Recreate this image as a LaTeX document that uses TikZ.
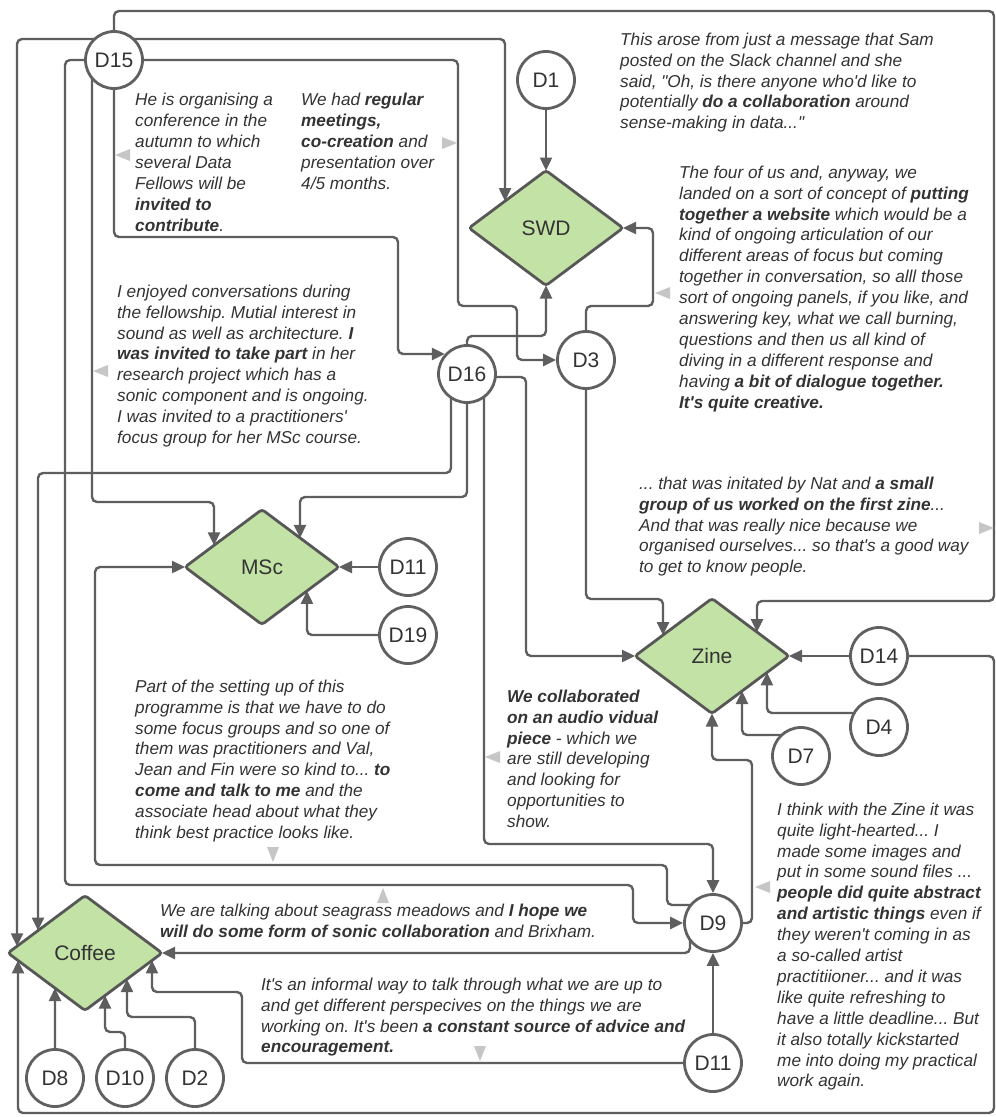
\documentclass[tikz,border=0pt]{standalone}
\usepackage{fontspec}
\setmainfont{Liberation Sans}[Ligatures=TeXOff]
\frenchspacing
\usetikzlibrary{arrows.meta,calc,backgrounds,shapes.geometric}

\definecolor{linegrey}{HTML}{5E5E5E}
\definecolor{ringgrey}{HTML}{606060}
\definecolor{inkgrey}{HTML}{333333}
\definecolor{tipgrey}{HTML}{C6C6C6}
\definecolor{leaf}{HTML}{C3E2A5}
\definecolor{leafedge}{HTML}{575757}

\begin{document}
\begin{tikzpicture}[x=1pt,y=-1pt,
  person/.style={circle, draw=ringgrey, line width=2.8pt, fill=white,
    minimum size=57pt, inner sep=0pt, text=inkgrey,
    font=\fontsize{21}{21}\selectfont},
  hub/.style={diamond, draw=leafedge, fill=leaf, line width=2.8pt,
    minimum width=154pt, minimum height=115pt, inner sep=0pt, outer sep=0pt,
    rounded corners=3pt, text=inkgrey, font=\fontsize{21}{21}\selectfont},
  link/.style={draw=linegrey, line width=2.4pt, rounded corners=5pt,
    -{Triangle[length=13pt,width=12pt]}},
  saying/.style={anchor=north west, align=left, inner sep=0pt, text=inkgrey,
    font=\fontsize{17.2}{20.9}\selectfont\itshape\frenchspacing},
  lbltip/.pic={\fill[tipgrey] (0,0) -- (-15,-6) -- (-15,6) -- cycle;}
]
\useasboundingbox (0,0) rectangle (996,1117);

% hubs
\node[hub] (swd)    at (546,228) {SWD};
\node[hub] (msc)    at (262,567) {MSc};
\node[hub] (zine)   at (712,656) {Zine};
\node[hub] (coffee) at (85,953)  {Coffee};

% people
\node[person] (d15)  at (114,60)   {D15};
\node[person] (d1)   at (546,80)   {D1};
\node[person] (d3)   at (586,360)  {D3};
\node[person] (d16)  at (467,374)  {D16};
\node[person] (d11a) at (408,567)  {D11};
\node[person] (d19)  at (408,635)  {D19};
\node[person] (d14)  at (879,656)  {D14};
\node[person] (d4)   at (879,727)  {D4};
\node[person] (d7)   at (801,756)  {D7};
\node[person] (d9)   at (713,923)  {D9};
\node[person] (d11b) at (713,1063) {D11};
\node[person] (d8)   at (55,1078)  {D8};
\node[person] (d10)  at (125,1078) {D10};
\node[person] (d2)   at (195,1078) {D2};

% connectors run underneath the circles
\begin{scope}[on background layer]
\fill[white] (0,0) rectangle (996,1117);

% D15
\draw[link] ($(d15)+(0,-21)$) -| ($(swd.west)!0.468!(swd.north)$);
\draw[link] ($(d15)+(0,-21)$) -| ($(coffee.west)!0.117!(coffee.north)$);
\draw[link] (d15.center) |- (994,11) |- (757,601)
  -- ($(zine.east)!0.416!(zine.north)$);
\draw[link] (d15.center) -| (458,306) -| (517,360) -- (d3);
\draw[link] (d15.center) |- (398,237) |- (d16.138);
\draw[link] ($(d15)+(-22,0)$) |- (214,502)
  -- ($(msc.west)!0.377!(msc.north)$);
\draw[link] (d15.center) -| (65,885) -| (633,923) -- (d9);

% D1, D3
\draw[link] (d1) -- (swd.north);
\draw[link] (d3.center) |- (653,306) |- (swd.east);
\draw[link] (d3.center) |- (663,599) -- ($(zine.west)!0.364!(zine.north)$);

% D16
\draw[link] (d16.center) |- (546,336) -- (swd.south);
\draw[link] ($(d16)+(0,3)$) -| (526,656) -- (zine.west);
\draw[link] ($(d16)+(17,0)$) |- (713,844) -- (d9);
\draw[link] (d16.center) |- (300,497) -- ($(msc.east)!0.506!(msc.north)$);
\draw[link] ($(d16)+(-16,0)$) |- (38,473)
  -- ($(coffee.west)!0.39!(coffee.north)$);

% MSc contributors
\draw[link] (d11a) -- (msc.east);
\draw[link] (d19.center) -| ($(msc.east)!0.416!(msc.south)$);

% Zine contributors
\draw[link] (d14) -- (zine.east);
\draw[link] (d14.center) -| (994,1113) -| ($(coffee.west)!0.13!(coffee.south)$);
\draw[link] ($(d4)+(0,-14)$) -| ($(zine.east)!0.286!(zine.south)$);
\draw[link] ($(d7)+(0,-21)$) -| ($(zine.east)!0.61!(zine.south)$);

% D9
\draw[link] (d9.center) -| (752,760) -| (zine.south);
\draw[link] ($(d9)+(0,-18)$) -| (667,865) -| (95,567) -- (msc.west);
\draw[link] ($(d9)+(-23,0)$) |- (coffee.east);

% D11 (lower)
\draw[link] (d11b) -- (d9);
\draw[link] (d11b.center) -| (242,992) -| ($(coffee.east)!0.13!(coffee.south)$);

% Coffee contributors
\draw[link] (d8) -- ($(coffee.west)!0.61!(coffee.south)$);
\draw[link] (d10.center) |- (105,1032) -- ($(coffee.east)!0.74!(coffee.south)$);
\draw[link] (d2.center) |- (127,1017) -- ($(coffee.east)!0.455!(coffee.south)$);
\end{scope}

% pointers from the quotes to their lines
\pic[rotate=180] at (115,155)  {lbltip};
\pic             at (457,143)  {lbltip};
\pic[rotate=180] at (93,371)   {lbltip};
\pic[rotate=180] at (655,293)  {lbltip};
\pic             at (994,528)  {lbltip};
\pic[rotate=-90] at (273,862)  {lbltip};
\pic[rotate=90]  at (383,888)  {lbltip};
\pic[rotate=-90] at (480,1061) {lbltip};
\pic[rotate=180] at (485,757)  {lbltip};
\pic[rotate=180] at (755,887)  {lbltip};

% quotes
\node[saying] (qa) at (620,30.4) {\strut This arose from just a message that Sam\\
posted on the Slack channel and she\\
said, "Oh, is there anyone who'd like to\\
potentially \textbf{do a collaboration} around\\
sense-making in data..."};

\node[saying] (qb) at (135,91.1) {\strut He is organising a\\
conference in the\\
autumn to which\\
several Data\\
Fellows will be\\
\textbf{invited to}\\
\textbf{contribute}.};

\node[saying] (qc) at (301,91.1) {\strut We had \textbf{regular}\\
\textbf{meetings,}\\
\textbf{co-creation} and\\
presentation over\\
4/5 months.};

\node[saying] (qd) at (117,282.4) {\strut I enjoyed conversations during\\
the fellowship. Mutial interest in\\
sound as well as architecture. \textbf{I}\\
\textbf{was invited to take part} in her\\
research project which has a\\
sonic component and is ongoing.\\
I was invited to a practitioners'\\
focus group for her MSc course.};

\node[saying] (qe) at (679,163.4) {\strut The four of us and, anyway, we\\
landed on a sort of concept of \textbf{putting}\\
\textbf{together a website} which would be a\\
kind of ongoing articulation of our\\
different areas of focus but coming\\
together in conversation, so alll those\\
sort of ongoing panels, if you like, and\\
answering key, what we call burning,\\
questions and then us all kind of\\
diving in a different response and\\
having \textbf{a bit of dialogue together.}\\
\textbf{It's quite creative.}};

\node[saying] (qf) at (639,474.4) {\strut ... that was initated by Nat and \textbf{a small}\\
\textbf{group of us worked on the first zine}...\\
And that was really nice because we\\
organised ourselves... so that's a good way\\
to get to know people.};

\node[saying] (qg) at (135,677.4) {\strut Part of the setting up of this\\
programme is that we have to do\\
some focus groups and so one of\\
them was practitioners and Val,\\
Jean and Fin were so kind to... \textbf{to}\\
\textbf{come and talk to me} and the\\
associate head about what they\\
think best practice looks like.};

\node[saying] (qh) at (507,687.4) {\strut \textbf{We collaborated}\\
\textbf{on an audio vidual}\\
\textbf{piece} - which we\\
are still developing\\
and looking for\\
opportunities to\\
show.};

\node[saying] (qi) at (160,901.4) {\strut We are talking about seagrass meadows and \textbf{I hope we}\\
\textbf{will do some form of sonic collaboration} and Brixham.};

\node[saying] (qj) at (261,975.4) {\strut It's an informal way to talk through what we are up to\\
and get different perspecives on the things we are\\
working on. It's been \textbf{a constant source of advice and}\\
\textbf{encouragement.}};

\node[saying] (qk) at (777,800.4) {\strut I think with the Zine it was\\
quite light-hearted... I\\
made some images and\\
put in some sound files ...\\
\textbf{people did quite abstract}\\
\textbf{and artistic things} even if\\
they weren't coming in as\\
a so-called artist\\
practitiioner... and it was\\
like quite refreshing to\\
have a little deadline... But\\
it also totally kickstarted\\
me into doing my practical\\
work again.};
\end{tikzpicture}
\end{document}
